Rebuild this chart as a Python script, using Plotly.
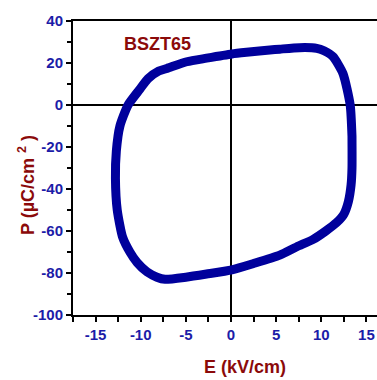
import plotly.graph_objects as go

# Hysteresis loop data (E in kV/cm, P in uC/cm^2)
E_vals = [13.4, 13.2, 12.4, 11.3, 10.3, 9.5, 7.6, 5.4, 4.3, 2.0, 0.1, -2.7, -4.9, -7.1,
          -8.0, -9.2, -10.1, -11.4, -12.3, -12.7, -12.8, -12.6, -12.0, -11.2, -10.4,
          -9.3, -8.2, -7.3, -5.0, -2.7, 0.1, 2.5, 5.4, 7.3, 9.1, 10.5, 11.7, 12.5,
          13.0, 13.3, 13.4, 13.4]
P_vals = [-15, 0, 15, 23, 25.8, 27, 27.3, 26.6, 26.2, 25.2, 24.3, 22.3, 20.6, 17.4,
          16.2, 12.5, 7.5, 0, -10, -22, -35, -50, -63, -70, -75, -79.5, -82, -83,
          -82, -80.5, -78.5, -75.5, -71.5, -67.5, -64, -60, -56, -52, -46, -38,
          -30, -15]

x_ticks = [-15, -10, -5, 0, 5, 10, 15]
y_ticks = [-100, -80, -60, -40, -20, 0, 20, 40]
sample_label = "BSZT65"

FONT = "Liberation Sans, Arial, sans-serif"
TICK_COLOR = "#1c1ca8"
TITLE_COLOR = "#8b0a0a"
LOOP_COLOR = "#00009c"

fig = go.Figure()
fig.add_trace(go.Scatter(
    x=E_vals + [E_vals[0]], y=P_vals + [P_vals[0]],
    mode="lines", line=dict(color=LOOP_COLOR, width=9, shape="spline", smoothing=0.6),
    hoverinfo="skip", showlegend=False,
))

fig.update_layout(
    width=377, height=380,
    margin=dict(l=73, r=0, t=21, b=65),
    paper_bgcolor="white", plot_bgcolor="white",
    showlegend=False,
    xaxis=dict(
        range=[-17.5, 16.17], tickvals=x_ticks, ticktext=[str(v) for v in x_ticks],
        showgrid=False, zeroline=True, zerolinecolor="black", zerolinewidth=1.5,
        showline=True, linecolor="black", linewidth=2, mirror=True,
        ticks="outside", ticklen=5, tickwidth=1.5, tickcolor="black",
        minor=dict(dtick=2.5, tick0=0, ticks="outside", ticklen=5, tickwidth=1.5, tickcolor="black"),
        tickfont=dict(family=FONT, size=15, color=TICK_COLOR, weight="bold"),
    ),
    yaxis=dict(
        range=[-100, 40], tickvals=y_ticks, ticktext=[str(v) for v in y_ticks],
        showgrid=False, zeroline=True, zerolinecolor="black", zerolinewidth=1.5,
        showline=True, linecolor="black", linewidth=2, mirror=False,
        ticks="outside", ticklen=5, tickwidth=1.5, tickcolor="black",
        minor=dict(dtick=10, tick0=0, ticks="outside", ticklen=4, tickwidth=1.5, tickcolor="black"),
        tickfont=dict(family=FONT, size=15, color=TICK_COLOR, weight="bold"),
    ),
    annotations=[
        dict(text="E (kV/cm)", xref="paper", yref="paper", x=(245 - 73) / 304, y=-(367 - 315) / 294,
             showarrow=False, xanchor="center", yanchor="middle",
             font=dict(family=FONT, size=18, color=TITLE_COLOR, weight="bold")),
        dict(text="P (µC/cm <sup>2</sup> )", xref="paper", yref="paper", x=-(73 - 26) / 304,
             y=(315 - 185) / 294, textangle=-90,
             showarrow=False, xanchor="center", yanchor="middle",
             font=dict(family=FONT, size=18, color=TITLE_COLOR, weight="bold")),
        dict(text=sample_label, xref="paper", yref="paper", x=(157 - 73) / 304, y=(315 - 44) / 294,
             showarrow=False, xanchor="center", yanchor="middle",
             font=dict(family=FONT, size=18, color=TITLE_COLOR, weight="bold")),
    ],
)

fig.write_html("out.html")
